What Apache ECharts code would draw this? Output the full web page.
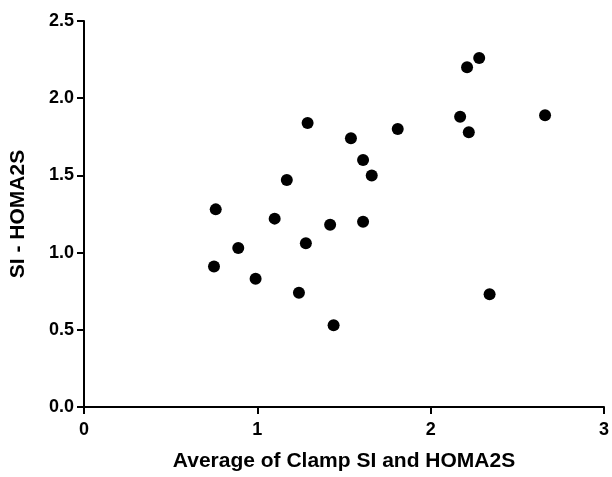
<!DOCTYPE html>
<html>
<head>
<meta charset="utf-8">
<script src="https://cdn.jsdelivr.net/npm/echarts@6/dist/echarts.min.js"></script>
<style>
  html, body { margin: 0; padding: 0; background: #fff; }
  #chart { width: 612px; height: 477px; }
</style>
</head>
<body>
<div id="chart"></div>
<script>
// average of clamp SI and HOMA2S (x) vs SI - HOMA2S (y)
const avgSI = [0.75, 0.76, 0.89, 0.99, 1.10, 1.17, 1.24, 1.28, 1.29, 1.42, 1.44,
               1.54, 1.61, 1.61, 1.66, 1.81, 2.17, 2.21, 2.22, 2.28, 2.34, 2.66]
const diffSI = [0.91, 1.28, 1.03, 0.83, 1.22, 1.47, 0.74, 1.06, 1.84, 1.18, 0.53,
                1.74, 1.60, 1.20, 1.50, 1.80, 1.88, 2.20, 1.78, 2.26, 0.73, 1.89]
const xTicks = [0, 1, 2, 3]
const yTicks = [0, 0.5, 1, 1.5, 2, 2.5]

const points = avgSI.map((x, i) => [x, diffSI[i]])

const chart = echarts.init(document.getElementById('chart'))

const axisFont = {
  color: '#000',
  fontFamily: 'Liberation Sans, Arial, sans-serif',
  fontWeight: 'bold'
}

chart.setOption({
  animation: false,
  grid: { left: 83, right: 7, top: 21, bottom: 66 },
  xAxis: {
    type: 'value',
    min: xTicks[0],
    max: xTicks[xTicks.length - 1],
    interval: 1,
    name: 'Average of Clamp SI and HOMA2S',
    nameLocation: 'middle',
    nameGap: 44,
    nameTextStyle: { ...axisFont, fontSize: 21 },
    axisLine: { onZero: false, lineStyle: { color: '#000', width: 2 } },
    axisTick: { length: 7, lineStyle: { color: '#000', width: 2 } },
    axisLabel: { ...axisFont, fontSize: 18, margin: 14 },
    splitLine: { show: false }
  },
  yAxis: {
    type: 'value',
    min: yTicks[0],
    max: yTicks[yTicks.length - 1],
    interval: 0.5,
    name: 'SI - HOMA2S',
    nameLocation: 'middle',
    nameGap: 55,
    nameTextStyle: { ...axisFont, fontSize: 21 },
    axisLine: { show: true, onZero: false, lineStyle: { color: '#000', width: 2 } },
    axisTick: { show: true, length: 7, lineStyle: { color: '#000', width: 2 } },
    axisLabel: { ...axisFont, fontSize: 18, margin: 10, formatter: v => v.toFixed(1) },
    splitLine: { show: false }
  },
  series: [{
    type: 'scatter',
    data: points,
    symbol: 'circle',
    symbolSize: 12,
    itemStyle: { color: '#000', opacity: 1 }
  }]
})
</script>
</body>
</html>
